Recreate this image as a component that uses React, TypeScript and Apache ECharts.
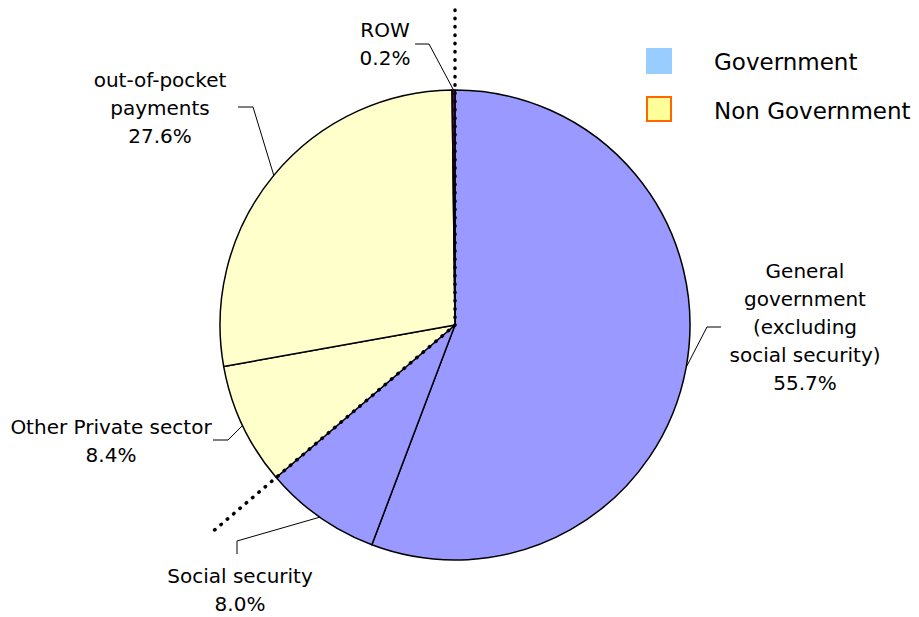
import React, { useEffect, useRef } from 'react';
import * as echarts from 'echarts';

// ---- data ----
const categories = [
  'General\ngovernment\n(excluding\nsocial security)',
  'Social security',
  'Other Private sector',
  'out-of-pocket\npayments',
  'ROW',
];
const values = [55.7, 8.0, 8.4, 27.6, 0.2];
const sliceColors = ['#9999FF', '#9999FF', '#FFFFCC', '#FFFFCC', '#660066'];
const legendNames = ['Government', 'Non Government'];
const legendFill = ['#99CCFF', '#FFFF99'];
const legendStroke = ['#99CCFF', '#FF6600'];
const governmentCount = 2; // first slices belonging to Government

// ---- layout ----
const CX = 455;
const CY = 325;
const R = 235;
const FONT = '"DejaVu Sans", Verdana, sans-serif';
const labelPlacement = [
  { x: 805, y: 327, line: [[707, 327], [721, 327]] },
  { x: 240, y: 590, line: [[237, 541], [237, 554]] },
  { x: 111, y: 441, line: [[228, 440], [213, 440]] },
  { x: 160, y: 108, line: [[253, 107], [238, 107]] },
  { x: 385, y: 44, line: [[429, 44], [415, 44]] },
];

export default function App() {
  const ref = useRef<HTMLDivElement>(null);
  useEffect(() => {
    if (!ref.current) return;
    const chart = echarts.init(ref.current, null, { renderer: 'svg' });
    const total = values.reduce((a, b) => a + b, 0);
    const cum: number[] = [];
    let acc = 0;
    values.forEach((v) => { cum.push(acc); acc += v; });
    const midPoint = (i: number) => {
      const a = ((cum[i] + values[i] / 2) / total) * Math.PI * 2;
      return [CX + R * Math.sin(a), CY - R * Math.cos(a)];
    };
    const govEnd = values.slice(0, governmentCount).reduce((a, b) => a + b, 0);
    const splitAngle = (govEnd / total) * Math.PI * 2;
    const dotStyle = { stroke: '#000', lineWidth: 3.5, lineDash: [0.5, 7.8], lineCap: 'round' };
    const L2 = 318;

    const graphics: any[] = [
      { type: 'line', z: 100, silent: true, shape: { x1: CX, y1: 10, x2: CX, y2: CY }, style: dotStyle },
      {
        type: 'line', z: 100, silent: true,
        shape: { x1: CX, y1: CY, x2: CX + L2 * Math.sin(splitAngle), y2: CY - L2 * Math.cos(splitAngle) },
        style: dotStyle,
      },
    ];
    legendNames.forEach((n, i) => {
      const top = 49 + i * 48;
      graphics.push({
        type: 'rect', silent: true,
        shape: { x: 647, y: top, width: 24, height: 24 },
        style: { fill: legendFill[i], stroke: legendStroke[i], lineWidth: 2 },
      });
      graphics.push({
        type: 'text', silent: true, x: 714, y: top + 13 + i,
        style: { text: n, fill: '#000', font: `23px ${FONT}`, textVerticalAlign: 'middle', textAlign: 'left' },
      });
    });

    chart.setOption({
      animation: false,
      textStyle: { fontFamily: FONT },
      graphic: graphics,
      series: [
        {
          type: 'pie',
          center: [CX, CY],
          radius: R,
          startAngle: 90,
          clockwise: true,
          avoidLabelOverlap: false,
          silent: true,
          itemStyle: { borderColor: '#000', borderWidth: 1.5 },
          label: {
            show: true,
            position: 'outside',
            color: '#000',
            fontSize: 20,
            lineHeight: 28,
            fontFamily: FONT,
            align: 'center',
            formatter: (p: any) => `${p.name}\n${Number(p.value).toFixed(1)}%`,
          },
          labelLine: { show: true, lineStyle: { color: '#000', width: 1 } },
          labelLayout: (p: any) => {
            const pl = labelPlacement[p.dataIndex];
            const start = midPoint(p.dataIndex);
            return {
              x: pl.x, y: pl.y, align: 'center', verticalAlign: 'middle',
              labelLinePoints: [start, ...pl.line],
            };
          },
          emphasis: { disabled: true },
          data: categories.map((c, i) => ({ name: c, value: values[i], itemStyle: { color: sliceColors[i] } })),
        },
      ],
    });
    return () => chart.dispose();
  }, []);
  return <div ref={ref} style={{ position: 'absolute', left: 0, top: 0, width: 919, height: 617, background: '#fff' }} />;
}
